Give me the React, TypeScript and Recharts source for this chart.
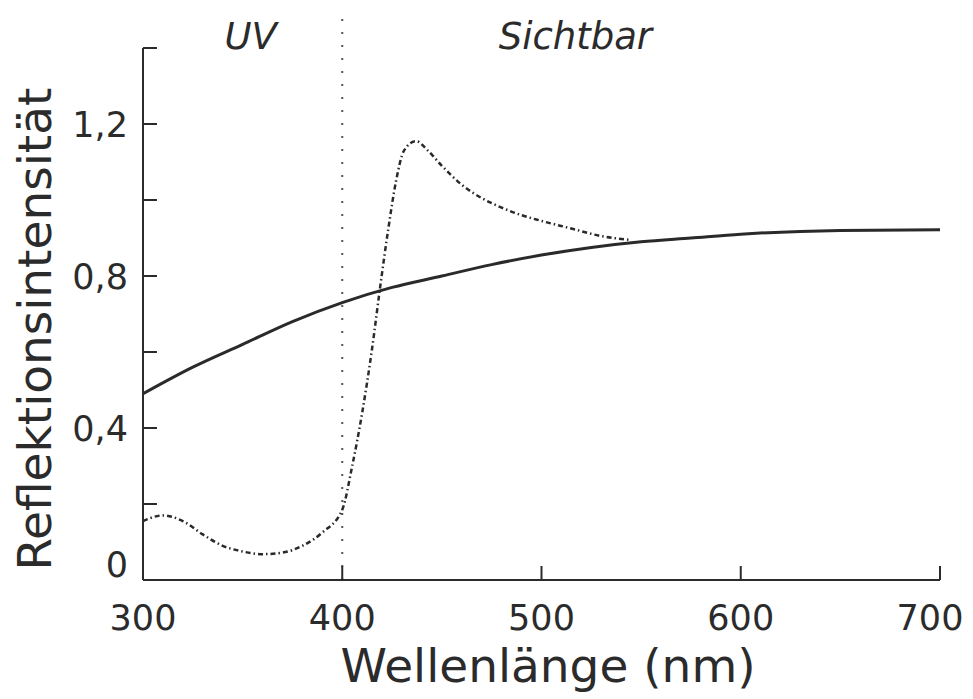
import React from 'react';
import {
  LineChart,
  Line,
  XAxis,
  YAxis,
  ReferenceLine,
  ReferenceDot,
} from 'recharts';

// Glatte Kurve (durchgezogen)
const smoothWl = [300, 325, 350, 375, 400, 425, 450, 475, 500, 525, 550, 575, 600, 650, 700];
const smoothVal = [0.49, 0.56, 0.62, 0.68, 0.73, 0.77, 0.8, 0.83, 0.855, 0.875, 0.89, 0.9, 0.91, 0.92, 0.922];

// Strukturierte Kurve (Strich-Punkt)
const structWl = [
  300, 310, 320, 330, 340, 350, 360, 370, 380, 390, 400, 405, 410, 415, 419, 423, 427, 431, 437,
  443, 450, 460, 470, 480, 490, 500, 515, 530, 545,
];
const structVal = [
  0.155, 0.17, 0.155, 0.12, 0.09, 0.075, 0.068, 0.072, 0.09, 0.125, 0.185, 0.3, 0.44, 0.61, 0.77,
  0.92, 1.05, 1.13, 1.155, 1.13, 1.09, 1.04, 1.005, 0.98, 0.96, 0.945, 0.925, 0.905, 0.895,
];

const xTicks = [300, 400, 500, 600, 700];
const yTicks = [0, 0.2, 0.4, 0.6, 0.8, 1.0, 1.2, 1.4];
const yLabelled = [0, 0.4, 0.8, 1.2];

const smoothData = smoothWl.map((x, i) => ({ x, y: smoothVal[i] }));
const structData = structWl.map((x, i) => ({ x, y: structVal[i] }));

const FONT = '"DejaVu Sans", sans-serif';
const INK = '#2b2b2b';

const XTick = (props: any) => {
  const { x, y, payload } = props;
  const dx = payload.value === 700 ? -10 : 0;
  return (
    <text x={x + dx} y={y + 64} textAnchor="middle" fontSize={35} fontFamily={FONT} fill={INK}>
      {payload.value}
    </text>
  );
};

const YTick = (props: any) => {
  const { x, y, payload } = props;
  const v = payload.value;
  if (!yLabelled.some((t) => Math.abs(t - v) < 1e-6)) return <g />;
  const txt = v === 0 ? '0' : v.toFixed(1).replace('.', ',');
  const dy = v === 0 ? -3 : 13;
  return (
    <text x={x - 29} y={y + dy} textAnchor="end" fontSize={35} fontFamily={FONT} fill={INK}>
      {txt}
    </text>
  );
};

const YTitle = (props: any) => {
  const vb = props.viewBox;
  const cx = vb.x + 34;
  const cy = 329;
  return (
    <text
      x={cx}
      y={cy}
      transform={`rotate(-90 ${cx} ${cy})`}
      textAnchor="middle"
      dominantBaseline="central"
      fontSize={47}
      fontFamily={FONT}
      fill={INK}
    >
      Reflektionsintensität
    </text>
  );
};

const XTitle = (props: any) => {
  const vb = props.viewBox;
  return (
    <text
      x={548}
      y={vb.y + 102}
      textAnchor="middle"
      fontSize={47}
      fontFamily={FONT}
      fill={INK}
    >
      Wellenlänge (nm)
    </text>
  );
};

const italicLabel = (value: string) => ({
  value,
  position: 'center' as const,
  fontSize: 37,
  fontStyle: 'italic',
  fontFamily: FONT,
  fill: INK,
});

export default function App() {
  return (
    <div style={{ position: 'absolute', left: 0, top: 0, background: '#fff' }}>
      <LineChart
        width={973}
        height={699}
        margin={{ top: 48, right: 33, bottom: 0, left: 0 }}
      >
        <XAxis
          type="number"
          dataKey="x"
          domain={[300, 700]}
          ticks={xTicks}
          allowDataOverflow
          height={119}
          tickSize={-14}
          tickMargin={0}
          stroke={INK}
          strokeWidth={2}
          tick={<XTick />}
          label={<XTitle />}
        />
        <YAxis
          type="number"
          dataKey="y"
          domain={[0, 1.4]}
          ticks={yTicks}
          allowDataOverflow
          width={143}
          tickSize={-14}
          tickMargin={0}
          stroke={INK}
          strokeWidth={2}
          tick={<YTick />}
          label={<YTitle />}
        />
        <ReferenceLine
          segment={[
            { x: 400, y: 0 },
            { x: 400, y: 1.49 },
          ]}
          ifOverflow="visible"
          stroke="#555"
          strokeWidth={2}
          strokeDasharray="2 11"
        />
        <ReferenceDot
          x={354}
          y={1.433}
          r={0}
          fill="none"
          stroke="none"
          ifOverflow="visible"
          label={italicLabel('UV')}
        />
        <ReferenceDot
          x={517}
          y={1.433}
          r={0}
          fill="none"
          stroke="none"
          ifOverflow="visible"
          label={italicLabel('Sichtbar')}
        />
        <Line
          data={smoothData}
          dataKey="y"
          type="monotone"
          stroke="#2a2a2a"
          strokeWidth={3}
          dot={false}
          isAnimationActive={false}
        />
        <Line
          data={structData}
          dataKey="y"
          type="monotone"
          stroke="#2a2a2a"
          strokeWidth={2.5}
          strokeDasharray="5 3 1.5 3"
          dot={false}
          isAnimationActive={false}
        />
      </LineChart>
    </div>
  );
}
